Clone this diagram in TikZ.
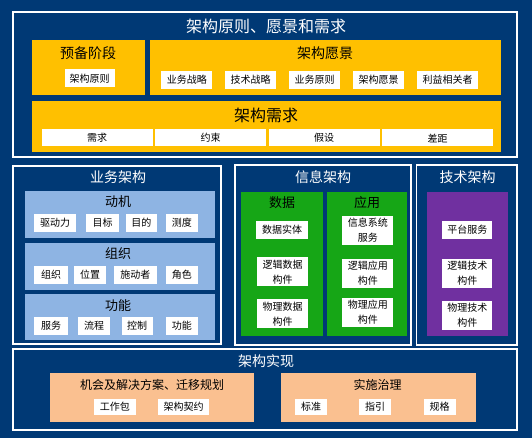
\documentclass[tikz,border=0pt]{standalone}
\usepackage{fontspec}
\setmainfont{Noto Sans CJK SC}
\definecolor{navy}{RGB}{0,57,117}
\definecolor{gold}{RGB}{255,192,0}
\definecolor{sky}{RGB}{142,180,227}
\definecolor{leaf}{RGB}{22,166,22}
\definecolor{plum}{RGB}{112,48,160}
\definecolor{peach}{RGB}{250,192,144}

\begin{document}
\begin{tikzpicture}[x=1pt,y=-1pt,
  panel/.style={draw=white,line width=1.5pt},
  head/.style={text=white,font=\fontsize{14}{16}\selectfont},
  sub/.style={font=\fontsize{13}{15}\selectfont},
  wbox/.style={fill=white,inner sep=0pt,minimum height=18pt,font=\fontsize{10}{12}\selectfont},
  wbox2/.style={wbox,minimum height=29pt,minimum width=51pt,align=center,font=\fontsize{10}{15}\selectfont}]

\useasboundingbox (0,0) rectangle (532,438);
\fill[navy] (0,0) rectangle (532,438);

% principles, vision, requirements
\begin{scope}
\draw[panel] (13,12) rectangle (517,157);
\node[head,font=\fontsize{16}{18}\selectfont] (prv) at (266,26) {架构原则、愿景和需求};
\fill[gold] (32,40) rectangle (145,95);
\fill[gold] (150,40) rectangle (501,95);
\fill[gold] (32,101) rectangle (501,152);

\node[font=\fontsize{14}{16}\selectfont] (prep) at (88,53) {预备阶段};
\node[wbox,minimum width=50pt] (prep1) at (89.6,78.5) {架构原则};

\node[font=\fontsize{14}{16}\selectfont] (vis) at (325,53) {架构愿景};
\node[wbox,minimum width=51pt] (vis1) at (186.8,80) {业务战略};
\node[wbox,minimum width=51pt] (vis2) at (250.5,80) {技术战略};
\node[wbox,minimum width=51pt] (vis3) at (314.5,80) {业务原则};
\node[wbox,minimum width=51pt] (vis4) at (378.7,80) {架构愿景};
\node[wbox,minimum width=61pt] (vis5) at (447.7,80) {利益相关者};

\node[font=\fontsize{16}{18}\selectfont] (req) at (266,115) {架构需求};
\node[wbox,minimum width=111pt,minimum height=17pt] (req1) at (97,138) {需求};
\node[wbox,minimum width=111pt,minimum height=17pt] (req2) at (210.5,138) {约束};
\node[wbox,minimum width=111pt,minimum height=17pt] (req3) at (324,138) {假设};
\node[wbox,minimum width=111pt,minimum height=17pt] (req4) at (437.5,138) {差距};
\end{scope}

% business architecture
\begin{scope}
\draw[panel] (13,166) rectangle (221,344);
\node[head] (ba) at (118,177) {业务架构};
\fill[sky] (25,191) rectangle (215,238);
\fill[sky] (25,243) rectangle (215,290);
\fill[sky] (25,294) rectangle (215,340);

\node[sub] (mot) at (118,202) {动机};
\node[wbox,minimum width=42pt] (mot1) at (55,223) {驱动力};
\node[wbox,minimum width=33pt] (mot2) at (102.5,223) {目标};
\node[wbox,minimum width=31pt] (mot3) at (141.3,223) {目的};
\node[wbox,minimum width=32pt] (mot4) at (181.8,223) {测度};

\node[sub] (org) at (118,254) {组织};
\node[wbox,minimum width=34pt] (org1) at (51.2,274.7) {组织};
\node[wbox,minimum width=32pt] (org2) at (90,274.7) {位置};
\node[wbox,minimum width=43pt] (org3) at (135.3,274.7) {施动者};
\node[wbox,minimum width=32pt] (org4) at (181.8,274.7) {角色};

\node[sub] (fun) at (118,306) {功能};
\node[wbox,minimum width=34pt] (fun1) at (51.2,325.5) {服务};
\node[wbox,minimum width=32pt] (fun2) at (94,325.5) {流程};
\node[wbox,minimum width=31pt] (fun3) at (137.2,325.5) {控制};
\node[wbox,minimum width=32pt] (fun4) at (181.8,325.5) {功能};
\end{scope}

% information architecture
\begin{scope}
\draw[panel] (235,165) rectangle (411,345);
\node[head] (ia) at (323,177) {信息架构};
\fill[leaf] (241,192) rectangle (322.7,336);
\fill[leaf] (326.7,192) rectangle (406.7,336);

\node[sub] (dat) at (282,203) {数据};
\node[wbox,minimum width=52pt] (dat1) at (282,230) {数据实体};
\node[wbox2] (dat2) at (282.5,271.7) {逻辑数据\\构件};
\node[wbox2] (dat3) at (282.5,313.8) {物理数据\\构件};

\node[sub] (app) at (367,203) {应用};
\node[wbox2] (app1) at (367.8,230.2) {信息系统\\服务};
\node[wbox2] (app2) at (367.8,273) {逻辑应用\\构件};
\node[wbox2] (app3) at (367.8,312.2) {物理应用\\构件};
\end{scope}

% technology architecture
\begin{scope}
\draw[panel] (416.7,165) rectangle (517,345);
\node[head] (ta) at (467.7,177) {技术架构};
\fill[plum] (427.3,192.3) rectangle (507.7,336);
\node[wbox,minimum width=50pt] (tec1) at (467.3,230) {平台服务};
\node[wbox2,minimum width=50pt] (tec2) at (467.3,273.7) {逻辑技术\\构件};
\node[wbox2,minimum width=50pt] (tec3) at (467.3,315) {物理技术\\构件};
\end{scope}

% realization
\begin{scope}
\draw[panel] (13,349) rectangle (517,430);
\node[head] (imp) at (266,361) {架构实现};
\fill[peach] (50,373.3) rectangle (254,422);
\fill[peach] (281,373.3) rectangle (475.7,422);

\node[font=\fontsize{12}{14}\selectfont] (opp) at (152,385) {机会及解决方案、迁移规划};
\node[wbox,minimum width=42pt,minimum height=15.5pt] (opp1) at (114.8,407) {工作包};
\node[wbox,minimum width=51pt,minimum height=15.5pt] (opp2) at (183.7,407) {架构契约};

\node[font=\fontsize{12}{14}\selectfont] (gov) at (377.7,385) {实施治理};
\node[wbox,minimum width=32pt,minimum height=15.5pt] (gov1) at (311.2,407) {标准};
\node[wbox,minimum width=32pt,minimum height=15.5pt] (gov2) at (375,407) {指引};
\node[wbox,minimum width=32pt,minimum height=15.5pt] (gov3) at (439.6,407) {规格};
\end{scope}

\end{tikzpicture}
\end{document}
